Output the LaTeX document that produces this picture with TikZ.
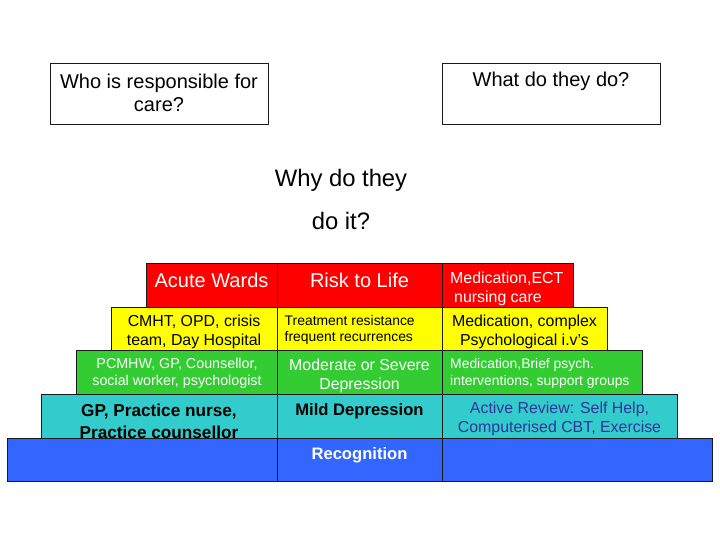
\documentclass[tikz,border=0pt]{standalone}
\usepackage{fontspec}
\setmainfont{Liberation Sans}
\definecolor{cred}{HTML}{FF0000}
\definecolor{cyel}{HTML}{FFFF00}
\definecolor{cgrn}{HTML}{33CC33}
\definecolor{ccyn}{HTML}{33CCCC}
\definecolor{cblu}{HTML}{3366FF}
\definecolor{cnavy}{HTML}{333399}
\definecolor{cedge}{HTML}{1A1A1A}
\begin{document}
\begin{tikzpicture}[x=1pt,y=-1pt,
  cell/.style={draw=cedge, line width=0.8pt, inner sep=0pt, outer sep=0pt},
  qbox/.style={draw=cedge, line width=0.8pt, inner sep=0pt, outer sep=0pt, minimum width=218pt, minimum height=61pt},
  big/.style={font=\fontsize{20}{23}\selectfont, align=center, inner sep=0pt},
  why/.style={font=\fontsize{23.8}{43}\selectfont, align=center, inner sep=0pt},
  head/.style={font=\fontsize{20}{23}\selectfont, inner sep=0pt},
  med/.style={font=\fontsize{15.9}{19}\selectfont, inner sep=0pt},
  small/.style={font=\fontsize{13.9}{16.5}\selectfont, inner sep=0pt},
  smalltwo/.style={font=\fontsize{14.3}{17}\selectfont, inner sep=0pt},
  bmed/.style={font=\fontsize{17.2}{22}\selectfont\bfseries, inner sep=0pt},
  bsm/.style={font=\fontsize{16.6}{19}\selectfont\bfseries, inner sep=0pt}
]
\useasboundingbox (0,0) rectangle (720,540);

% question boxes
\node[qbox] (qwho) at (159,93.5) {};
\node[qbox] (qwhat) at (551,93.5) {};
\node[big] (twho) at (159,92.5) {Who is responsible for\\care?};
\node[big, anchor=base] (twhat) at (551,87) {What do they do?};
\node[why] (twhy) at (341,199.5) {Why do they\\do it?};

% row 1 (red)
\node[cell, fill=cred, minimum width=131pt, minimum height=44pt] (c1a) at (211.5,285) {};
\node[cell, fill=cred, minimum width=165pt, minimum height=44pt] (c1b) at (359.5,285) {};
\node[cell, fill=cred, minimum width=131pt, minimum height=44pt] (c1c) at (507.5,285) {};
% row 2 (yellow)
\node[cell, fill=cyel, minimum width=166pt, minimum height=43pt] (c2a) at (194,328.5) {};
\node[cell, fill=cyel, minimum width=165pt, minimum height=43pt] (c2b) at (359.5,328.5) {};
\node[cell, fill=cyel, minimum width=165pt, minimum height=43pt] (c2c) at (524.5,328.5) {};
% row 3 (green)
\node[cell, fill=cgrn, minimum width=201pt, minimum height=44pt] (c3a) at (176.5,372) {};
\node[cell, fill=cgrn, minimum width=165pt, minimum height=44pt] (c3b) at (359.5,372) {};
\node[cell, fill=cgrn, minimum width=200pt, minimum height=44pt] (c3c) at (542,372) {};
% row 4 (cyan)
\node[cell, fill=ccyn, minimum width=236pt, minimum height=44pt] (c4a) at (159,416) {};
\node[cell, fill=ccyn, minimum width=165pt, minimum height=44pt] (c4b) at (359.5,416) {};
\node[cell, fill=ccyn, minimum width=235pt, minimum height=44pt] (c4c) at (559.5,416) {};

% row texts
\node[head, text=white, anchor=base] (t1a) at (211.5,287) {Acute Wards};
\node[head, text=white, anchor=base] (t1b) at (359.5,287) {Risk to Life};
\node[med, text=white, align=left, anchor=west] (t1c) at (450,288.5) {Medication,ECT\\\hspace*{4pt}nursing care};

\node[med, align=center] (t2a) at (194,332) {CMHT, OPD, crisis\\team, Day Hospital};
\node[small, align=left, anchor=west] (t2b) at (284.5,330) {Treatment resistance\\frequent recurrences};
\node[med, align=center] (t2c) at (524.5,332) {Medication, complex\\Psychological i.v's};

\node[smalltwo, text=white, align=center] (t3a) at (177,373.5) {PCMHW, GP, Counsellor,\\social worker, psychologist};
\node[med, text=white, align=center] (t3b) at (359.5,375.5) {Moderate or Severe\\Depression};
\node[small, text=white, align=left, anchor=west] (t3c) at (450,373.5) {Medication,Brief psych.\\interventions, support groups};

\node[bmed, align=center] (t4a) at (159,421) {GP, Practice nurse,\\Practice counsellor};
\node[bsm, anchor=base] (t4b) at (359.5,415.5) {Mild Depression};
\node[med, text=cnavy, align=center] (t4c) at (559.5,419) {Active Review: Self Help,\\Computerised CBT, Exercise};

% row 5 (blue)
\node[cell, fill=cblu, minimum width=270pt, minimum height=43pt] (c5a) at (142,459.5) {};
\node[cell, fill=cblu, minimum width=165pt, minimum height=43pt] (c5b) at (359.5,459.5) {};
\node[cell, fill=cblu, minimum width=270pt, minimum height=43pt] (c5c) at (577,459.5) {};
\node[bsm, text=white, anchor=base] (t5b) at (359.5,459) {Recognition};
\end{tikzpicture}
\end{document}
